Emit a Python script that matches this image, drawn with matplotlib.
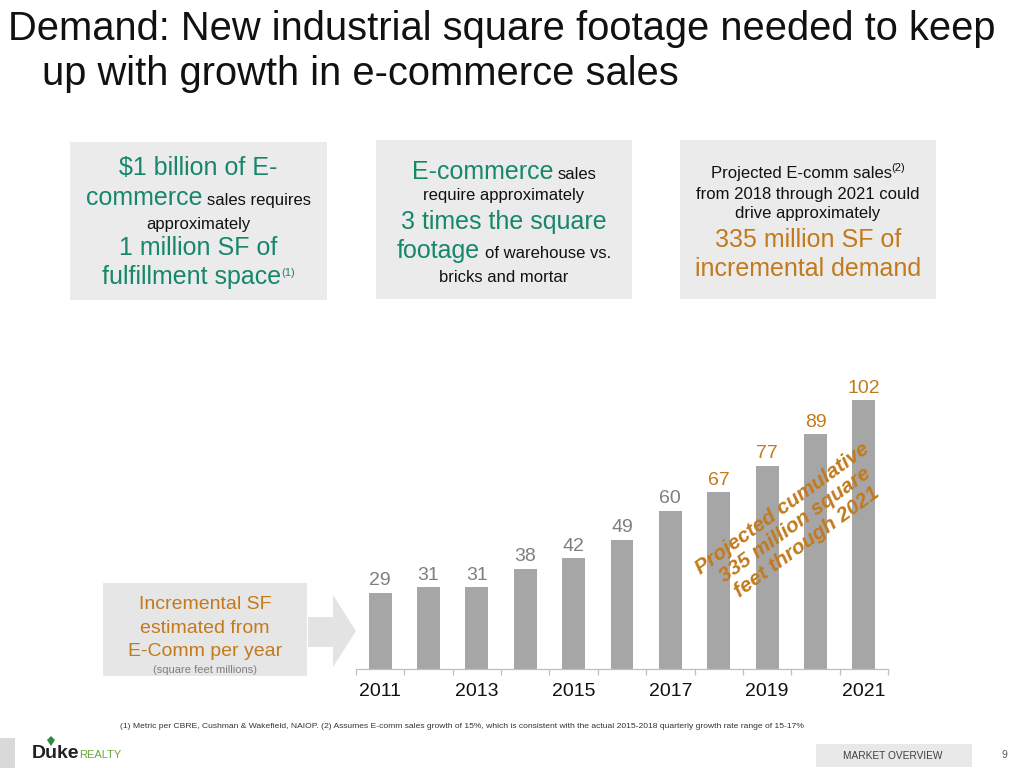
import matplotlib
matplotlib.use("Agg")
import matplotlib.pyplot as plt
from matplotlib.patches import Rectangle, Polygon
import numpy as np

# ---------------- data ----------------
years = [2011, 2012, 2013, 2014, 2015, 2016, 2017, 2018, 2019, 2020, 2021]
values = [29, 31, 31, 38, 42, 49, 60, 67, 77, 89, 102]
n_actual = 7                     # 2011-2017 actual (grey labels), rest projected
tick_years = [2011, 2013, 2015, 2017, 2019, 2021]

title_1 = "Demand: New industrial square footage needed to keep"
title_2 = "up with growth in e-commerce sales"
footnote = ("(1) Metric per CBRE, Cushman & Wakefield, NAIOP. (2) Assumes E-comm sales growth of 15%, "
            "which is consistent with the actual 2015-2018 quarterly growth rate range of 15-17%")
rot_text = "Projected cumulative\n335 million square\nfeet through 2021"

GREEN = "#17876B"
ORANGE = "#C27A1C"
BLACK = "#111111"
GREYTXT = "#7F7F7F"
BAR = "#A6A6A6"
BOXC = "#EBEBEB"

W, H = 1024, 768
plt.rcParams['font.family'] = ['Liberation Sans', 'DejaVu Sans']
fig = plt.figure(figsize=(10.24, 7.68), dpi=100)
renderer = fig.canvas.get_renderer()


def fx(x):
    return x / W


def fy(y):
    return 1 - y / H


def frect(x0, y0, x1, y1, color):
    fig.patches.append(Rectangle((fx(x0), fy(y1)), (x1 - x0) / W, (y1 - y0) / H,
                                 transform=fig.transFigure, color=color, zorder=0, lw=0))


def text_width(s, size, **kw):
    t = fig.text(0, 0, s, fontsize=size, **kw)
    w = t.get_window_extent(renderer).width
    t.remove()
    return w


def space_w(size, **kw):
    return text_width("x x", size, **kw) - text_width("xx", size, **kw)


def draw_line(cx, base_y, segs):
    widths = []
    for s, size, c, rise in segs:
        lead = len(s) - len(s.lstrip(' '))
        widths.append(lead * space_w(size) + text_width(s.strip(), size))
    total = sum(widths)
    x = cx - total / 2
    for (s, size, c, rise), w in zip(segs, widths):
        lead = len(s) - len(s.lstrip(' '))
        x0 = x + lead * space_w(size)
        fig.text(fx(x0), fy(base_y - rise), s.strip(), fontsize=size, color=c,
                 ha='left', va='baseline')
        x += w


# ---------------- title ----------------
fig.text(fx(8), fy(40), title_1, fontsize=28.7, color=BLACK, ha='left', va='baseline')
fig.text(fx(42), fy(85), title_2, fontsize=28.7, color=BLACK, ha='left', va='baseline')

# ---------------- three info boxes ----------------
L, S, SUP = 18, 12, 8
frect(70, 142, 327, 300, BOXC)
frect(376, 140, 632, 299, BOXC)
frect(680, 140, 936, 299, BOXC)

box1 = [
    (175, [("$1 billion of E-", L, GREEN, 0)]),
    (205, [("commerce", L, GREEN, 0), (" sales requires", S, BLACK, 0)]),
    (229, [("approximately", S, BLACK, 0)]),
    (255, [("1 million SF of", L, GREEN, 0)]),
    (284, [("fulfillment space", L, GREEN, 0), ("(1)", SUP, GREEN, 8)]),
]
box2 = [
    (179, [("E-commerce", L, GREEN, 0), (" sales", S, BLACK, 0)]),
    (200, [("require approximately", S, BLACK, 0)]),
    (229, [("3 times the square", L, GREEN, 0)]),
    (258, [("footage", L, GREEN, 0), (" of warehouse vs.", S, BLACK, 0)]),
    (282, [("bricks and mortar", S, BLACK, 0)]),
]
box3 = [
    (178, [("Projected E-comm sales", S, BLACK, 0), ("(2)", SUP, BLACK, 7)]),
    (199, [("from 2018 through 2021 could", S, BLACK, 0)]),
    (218, [("drive approximately", S, BLACK, 0)]),
    (247, [("335 million SF of", L, ORANGE, 0)]),
    (276, [("incremental demand", L, ORANGE, 0)]),
]
for cx, box in [(198.5, box1), (504, box2), (808, box3)]:
    for by, segs in box:
        draw_line(cx, by, segs)

# ---------------- left label box + arrow ----------------
frect(103, 583, 307, 676, "#E6E6E6")
fig.patches.append(Polygon([(fx(308), fy(617)), (fx(333), fy(617)), (fx(333), fy(595)),
                            (fx(356), fy(631)), (fx(333), fy(667)), (fx(333), fy(647)),
                            (fx(308), fy(647))], closed=True, transform=fig.transFigure,
                           color="#E3E3E3", lw=0, zorder=0))
for by, s in [(609, "Incremental SF"), (633, "estimated from"), (656, "E-Comm per year")]:
    fig.text(fx(205), fy(by), s, fontsize=14, color=ORANGE, ha='center', va='baseline')
fig.text(fx(205), fy(673), "(square feet millions)", fontsize=8, color=GREYTXT,
         ha='center', va='baseline')

# ---------------- bar chart ----------------
ax = fig.add_axes([fx(356), fy(669), (888 - 356) / W, 300 / H])
x = np.arange(len(years))
ax.bar(x, values, width=0.475, color=BAR, zorder=2)
ax.set_xlim(-0.5, len(years) - 0.5)
ax.set_ylim(0, 102 * 300 / 269)
for i, v in enumerate(values):
    ax.annotate(str(v), (x[i], v), xytext=(0, 2.5), textcoords='offset points',
                ha='center', va='bottom', fontsize=14,
                color=GREYTXT if i < n_actual else ORANGE)
for sp in ['left', 'right', 'top']:
    ax.spines[sp].set_visible(False)
ax.spines['bottom'].set_color('#BFBFBF')
ax.spines['bottom'].set_linewidth(0.9)
ax.set_xticks([years.index(y) for y in tick_years])
ax.set_xticklabels([str(y) for y in tick_years])
ax.tick_params(axis='x', which='major', length=0, pad=10, labelsize=14, labelcolor=BLACK)
ax.set_xticks(np.arange(-0.5, len(years), 1.0), minor=True)
ax.tick_params(axis='x', which='minor', length=4.5, color='#BFBFBF', width=0.9)
ax.yaxis.set_visible(False)
ax.patch.set_alpha(0)

fig.text(fx(795), fy(525), rot_text, fontsize=15, fontweight='bold', fontstyle='italic',
         color=ORANGE, rotation=36, rotation_mode='anchor', ha='center', va='center',
         multialignment='center', linespacing=1.12)

# ---------------- footer ----------------
fig.text(fx(462), fy(727), footnote, fontsize=6.1, color="#333333", ha='center', va='center')

frect(0, 738, 15, 768, "#D9D9D9")
fig.text(fx(32), fy(758), "Duke", fontsize=14, fontweight='bold', color="#231F20",
         ha='left', va='baseline')
fig.text(fx(79), fy(758), "REALTY", fontsize=8, color="#6BA539", ha='left', va='baseline')
fig.patches.append(Polygon([(fx(51), fy(746)), (fx(47), fy(740)), (fx(51), fy(736)),
                            (fx(55), fy(740))], closed=True, transform=fig.transFigure,
                           color="#2E8B3E", lw=0))

frect(816, 744, 972, 767, "#E8E8E8")
fig.text(fx(893), fy(756), "MARKET OVERVIEW", fontsize=7.3, color="#404040",
         ha='center', va='center')
fig.text(fx(1004), fy(755), "9", fontsize=7.5, color="#555555", ha='center', va='center')

fig.savefig("out.png", dpi=100)
